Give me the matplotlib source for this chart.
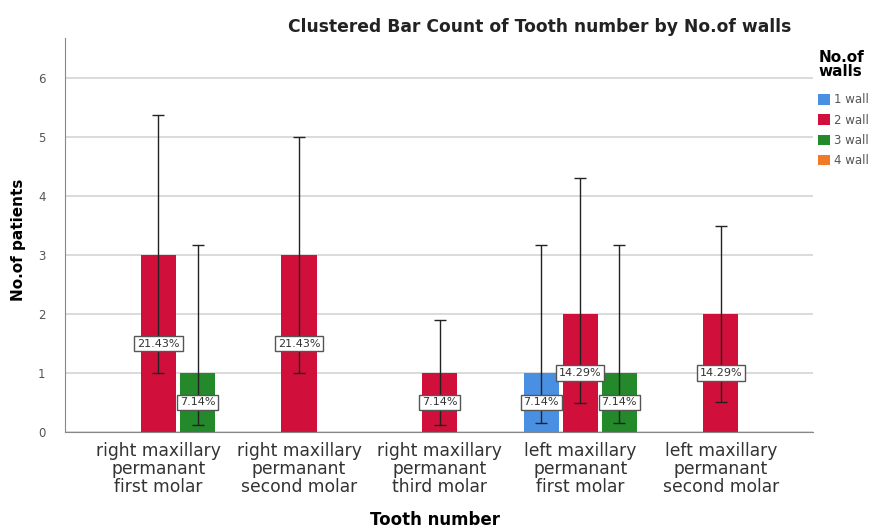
import numpy as np
import matplotlib
matplotlib.use("Agg")
import matplotlib.pyplot as plt
from matplotlib.patches import Patch

plt.rcParams['font.family'] = ['DejaVu Sans']

categories = [
    "right maxillary\npermanant\nfirst molar",
    "right maxillary\npermanant\nsecond molar",
    "right maxillary\npermanant\nthird molar",
    "left maxillary\npermanant\nfirst molar",
    "left maxillary\npermanant\nsecond molar",
]
series = ["1 wall", "2 wall", "3 wall", "4 wall"]
colors = ["#4a90e2", "#d0103a", "#23892b", "#f07a2a"]

# patient counts per tooth (rows follow series)
counts = np.array([
    [0, 0, 0, 1, 0],
    [3, 3, 1, 2, 2],
    [1, 0, 0, 1, 0],
    [0, 0, 0, 0, 0],
])
# 95% CI bounds for each count
ci_low = np.array([
    [0, 0, 0, 0.15, 0],
    [1.0, 1.0, 0.12, 0.49, 0.5],
    [0.12, 0, 0, 0.15, 0],
    [0, 0, 0, 0, 0],
])
ci_high = np.array([
    [0, 0, 0, 3.17, 0],
    [5.37, 5.0, 1.9, 4.3, 3.5],
    [3.17, 0, 0, 3.17, 0],
    [0, 0, 0, 0, 0],
])
total = counts.sum()

fig = plt.figure(figsize=(8.82, 5.32), dpi=100)
ax = fig.add_axes([0.0737, 0.188, 0.8483, 0.7406])

x = np.arange(len(categories))
slot = 0.278
width = 0.25
offsets = [-1, 0, 1, 2]

for i, name in enumerate(series):
    for j in x:
        c = counts[i, j]
        if c == 0:
            continue
        xp = j + offsets[i] * slot
        ax.bar(xp, c, width=width, color=colors[i], zorder=2)
        ax.errorbar(xp, c, yerr=[[c - ci_low[i, j]], [ci_high[i, j] - c]],
                    fmt='none', ecolor='#222222', elinewidth=1.0,
                    capsize=4, capthick=1.0, zorder=3)
        ax.text(xp, c / 2, f"{c / total * 100:.2f}%", ha='center', va='center',
                fontsize=8, color='#333333', zorder=4,
                bbox=dict(boxstyle='square,pad=0.25', fc='white', ec='#555555', lw=1.0))

ax.set_xlim(-0.665, 4.658)
ax.set_ylim(0, 6.68)
ax.set_yticks(range(0, 7))
ax.yaxis.grid(True, color='#d4d4d4', lw=1.2, zorder=0)
ax.set_axisbelow(True)
ax.set_xticks(x)
ax.set_xticklabels(categories, fontsize=12.3, color='#333333', linespacing=1.02)
ax.tick_params(axis='x', length=0, pad=7)
ax.tick_params(axis='y', length=0, labelsize=8.5, labelcolor='#555555', pad=14)
for s in ['top', 'right']:
    ax.spines[s].set_visible(False)
ax.spines['left'].set_color('#888888')
ax.spines['bottom'].set_color('#888888')

ax.set_xlabel("Tooth number", fontsize=12, fontweight='bold')
ax.xaxis.set_label_coords(0.495, -0.2)
ax.set_ylabel("No.of patients", fontsize=11, fontweight='bold')
ax.yaxis.set_label_coords(-0.052, 0.487)
fig.text(0.612, 0.949, "Clustered Bar Count of Tooth number by No.of walls",
         ha='center', va='center', fontsize=12.3, fontweight='bold', color='#222222')

handles = [Patch(facecolor=c, label=s) for c, s in zip(colors, series)]
leg = fig.legend(handles=handles, loc='upper left', bbox_to_anchor=(0.928, 0.906),
                 frameon=False, title="No.of\nwalls", fontsize=8.5,
                 handlelength=1.0, handleheight=1.0, handletextpad=0.3,
                 labelspacing=0.62, borderaxespad=0, borderpad=0)
leg.get_title().set_fontweight('bold')
leg.get_title().set_fontsize(11)
leg.get_title().set_linespacing(0.95)
leg._legend_box.align = 'left'
leg._legend_box.sep = 10
for t in leg.get_texts():
    t.set_color('#555555')

fig.savefig("out.png", dpi=100)
